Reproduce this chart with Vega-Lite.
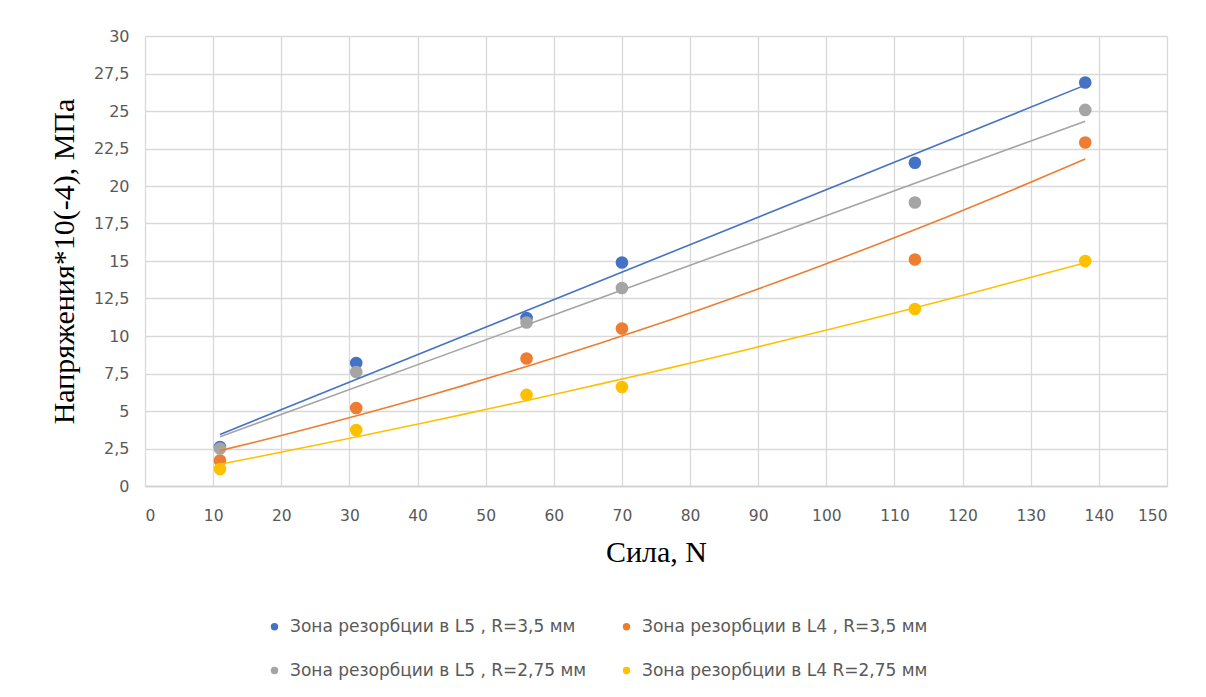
{
  "$schema": "https://vega.github.io/schema/vega-lite/v6.json",
  "width": 1022,
  "height": 450,
  "autosize": {"type": "none"},
  "padding": {"left": 145, "top": 36, "right": 39, "bottom": 211},
  "background": "white",
  "config": {
    "view": {"stroke": null},
    "font": "DejaVu Sans"
  },
  "data": {
    "values": [
      {"series": "Зона резорбции в L5  , R=3,5 мм", "x": 11, "y": 2.6},
      {"series": "Зона резорбции в L5  , R=3,5 мм", "x": 31, "y": 8.2},
      {"series": "Зона резорбции в L5  , R=3,5 мм", "x": 56, "y": 11.2},
      {"series": "Зона резорбции в L5  , R=3,5 мм", "x": 70, "y": 14.9},
      {"series": "Зона резорбции в L5  , R=3,5 мм", "x": 113, "y": 21.55},
      {"series": "Зона резорбции в L5  , R=3,5 мм", "x": 138, "y": 26.9},
      {"series": "Зона резорбции в L4 , R=3,5 мм", "x": 11, "y": 1.7},
      {"series": "Зона резорбции в L4 , R=3,5 мм", "x": 31, "y": 5.2},
      {"series": "Зона резорбции в L4 , R=3,5 мм", "x": 56, "y": 8.5},
      {"series": "Зона резорбции в L4 , R=3,5 мм", "x": 70, "y": 10.5},
      {"series": "Зона резорбции в L4 , R=3,5 мм", "x": 113, "y": 15.1},
      {"series": "Зона резорбции в L4 , R=3,5 мм", "x": 138, "y": 22.9},
      {"series": "Зона резорбции в L5  , R=2,75 мм", "x": 11, "y": 2.5},
      {"series": "Зона резорбции в L5  , R=2,75 мм", "x": 31, "y": 7.6},
      {"series": "Зона резорбции в L5  , R=2,75 мм", "x": 56, "y": 10.9},
      {"series": "Зона резорбции в L5  , R=2,75 мм", "x": 70, "y": 13.2},
      {"series": "Зона резорбции в L5  , R=2,75 мм", "x": 113, "y": 18.9},
      {"series": "Зона резорбции в L5  , R=2,75 мм", "x": 138, "y": 25.07},
      {"series": "Зона резорбции в L4  R=2,75 мм", "x": 11, "y": 1.13},
      {"series": "Зона резорбции в L4  R=2,75 мм", "x": 31, "y": 3.73},
      {"series": "Зона резорбции в L4  R=2,75 мм", "x": 56, "y": 6.07},
      {"series": "Зона резорбции в L4  R=2,75 мм", "x": 70, "y": 6.6},
      {"series": "Зона резорбции в L4  R=2,75 мм", "x": 113, "y": 11.8},
      {"series": "Зона резорбции в L4  R=2,75 мм", "x": 138, "y": 15.0}
    ]
  },
  "encoding": {
    "x": {
      "field": "x", "type": "quantitative",
      "scale": {"domain": [0, 150], "nice": false},
      "axis": {
        "title": "Сила, N",
        "values": [0,10,20,30,40,50,60,70,80,90,100,110,120,130,140,150],
        "grid": true, "gridColor": "#d9d9d9", "gridWidth": 1.3,
        "domainColor": "#d0d0d0", "domainWidth": 1.3,
        "ticks": false, "labelPadding": 22,
        "labelFont": "DejaVu Sans", "labelFontSize": 15.5, "labelColor": "#595959",
        "titleFont": "Liberation Serif", "titleFontSize": 30, "titleFontWeight": "normal",
        "titleColor": "#000000", "titlePadding": 14
      }
    },
    "y": {
      "field": "y", "type": "quantitative",
      "scale": {"domain": [0, 30], "nice": false},
      "axis": {
        "title": "Напряжения*10(-4), МПа",
        "values": [0,2.5,5,7.5,10,12.5,15,17.5,20,22.5,25,27.5,30],
        "labelExpr": "replace(toString(datum.value), '.', ',')",
        "grid": true, "gridColor": "#d9d9d9", "gridWidth": 1.3,
        "domain": false, "ticks": false, "labelPadding": 16,
        "labelFont": "DejaVu Sans", "labelFontSize": 16, "labelColor": "#595959",
        "titleFont": "Liberation Serif", "titleFontSize": 30, "titleFontWeight": "normal",
        "titleColor": "#000000", "titlePadding": 14
      }
    },
    "color": {
      "field": "series", "type": "nominal",
      "scale": {
        "domain": ["Зона резорбции в L5  , R=3,5 мм", "Зона резорбции в L4 , R=3,5 мм", "Зона резорбции в L5  , R=2,75 мм", "Зона резорбции в L4  R=2,75 мм"],
        "range": ["#4472C4", "#ED7D31", "#A5A5A5", "#FFC000"]
      },
      "legend": {
        "title": null, "orient": "none", "legendX": 121, "legendY": 582,
        "columns": 2, "direction": "horizontal", "columnPadding": 26, "rowPadding": 26,
        "symbolType": "circle", "symbolSize": 55, "symbolStrokeWidth": 0,
        "labelFont": "DejaVu Sans", "labelFontSize": 17, "labelColor": "#595959",
        "labelLimit": 400, "labelOffset": 7
      }
    }
  },
  "layer": [
    {
      "mark": {"type": "point", "filled": true, "opacity": 1, "size": 160, "shape": "circle"}
    },
    {
      "transform": [
        {"filter": {"field": "series", "oneOf": ["Зона резорбции в L5  , R=3,5 мм", "Зона резорбции в L5  , R=2,75 мм"]}},
        {"regression": "y", "on": "x", "groupby": ["series"], "method": "linear"}
      ],
      "mark": {"type": "line", "strokeWidth": 1.6}
    },
    {
      "transform": [
        {"filter": {"field": "series", "oneOf": ["Зона резорбции в L4 , R=3,5 мм", "Зона резорбции в L4  R=2,75 мм"]}},
        {"regression": "y", "on": "x", "groupby": ["series"], "method": "poly", "order": 2}
      ],
      "mark": {"type": "line", "strokeWidth": 1.6}
    }
  ]
}
